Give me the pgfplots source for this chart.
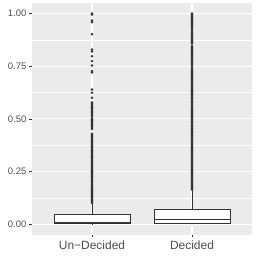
\documentclass[border=0pt]{standalone}
\usepackage{fontspec}
\setmainfont{Liberation Sans}
\usepackage{pgfplots}
\pgfplotsset{compat=1.18}
\usepgfplotslibrary{statistics}
\definecolor{panel}{HTML}{EBEBEB}
\definecolor{g20}{HTML}{333333}
\definecolor{g30}{HTML}{4D4D4D}
\begin{document}
\begin{tikzpicture}
\useasboundingbox (0,0) rectangle (256bp,256bp);
\begin{axis}[
 at={(32bp,21.3bp)}, anchor=south west,
 scale only axis, width=220bp, height=231.7bp,
 xmin=0.4, xmax=2.6, ymin=-0.05, ymax=1.05,
 axis background/.style={fill=panel},
 axis line style={draw=none},
 xtick={1,2}, xticklabels={Un−Decided, Decided},
 ytick={0,0.25,0.5,0.75,1}, yticklabels={0.00,0.25,0.50,0.75,1.00},
 minor ytick={0.125,0.375,0.625,0.875},
 grid=both,
 major grid style={white, line width=1.1bp},
 minor grid style={white, line width=0.55bp},
 tick align=outside, major tick length=2.7bp, minor tick length=0pt,
 tick style={g20, line width=0.5bp},
 tick pos=left,
 yticklabel style={font=\fontsize{9.5}{10}\selectfont, text=g30, xshift=0.5bp},
 xticklabel style={font=\fontsize{12}{13}\selectfont, text=g30},
 boxplot/draw direction=y,
 boxplot/every median/.style={line width=1.2bp},
]
\addplot[boxplot prepared={draw position=1, lower whisker=0, lower quartile=0.003, median=0.0095, upper quartile=0.047, upper whisker=0.100, box extend=0.76, whisker extend=0},
  draw=g20, line width=0.55bp, fill=white, mark=*, mark size=0.95bp, mark options={draw=g20, fill=g20, solid}]
 table[row sep=\\, y index=0] {data\\
0.100\\ 0.105\\ 0.110\\ 0.115\\ 0.120\\ 0.125\\ 0.130\\ 0.135\\ 0.140\\ 0.145\\
0.150\\ 0.155\\ 0.160\\ 0.165\\ 0.170\\ 0.175\\ 0.180\\ 0.185\\ 0.190\\ 0.195\\
0.200\\ 0.205\\ 0.210\\ 0.215\\ 0.220\\ 0.225\\ 0.230\\ 0.235\\ 0.240\\ 0.245\\
0.250\\ 0.255\\ 0.260\\ 0.265\\ 0.270\\ 0.275\\ 0.280\\ 0.285\\ 0.290\\ 0.295\\
0.300\\ 0.305\\ 0.310\\ 0.315\\ 0.320\\ 0.325\\ 0.330\\ 0.335\\ 0.340\\ 0.345\\
0.350\\ 0.355\\ 0.360\\ 0.365\\ 0.370\\ 0.375\\ 0.380\\ 0.385\\ 0.390\\ 0.395\\
0.400\\ 0.405\\ 0.410\\ 0.415\\ 0.420\\ 0.425\\ 0.430\\
0.452\\ 0.457\\ 0.462\\ 0.467\\ 0.472\\ 0.477\\ 0.482\\ 0.487\\ 0.492\\ 0.497\\ 0.502\\
0.512\\ 0.518\\ 0.524\\ 0.530\\ 0.536\\ 0.542\\ 0.548\\ 0.554\\ 0.560\\ 0.566\\ 0.572\\ 0.578\\
0.600\\ 0.624\\ 0.639\\ 0.720\\ 0.727\\ 0.753\\ 0.774\\ 0.797\\ 0.820\\ 0.829\\
0.902\\ 0.959\\ 0.967\\ 0.995\\ 1.000\\
};
\addplot[boxplot prepared={draw position=2, lower whisker=0, lower quartile=0.005, median=0.021, upper quartile=0.073, upper whisker=0.163, box extend=0.76, whisker extend=0},
  draw=g20, line width=0.55bp, fill=white, mark=*, mark size=0.95bp, mark options={draw=g20, fill=g20, solid}]
 table[row sep=\\, y index=0] {data\\
0.165\\ 0.170\\ 0.175\\ 0.180\\ 0.185\\ 0.190\\ 0.195\\ 0.200\\ 0.205\\ 0.210\\
0.215\\ 0.220\\ 0.225\\ 0.230\\ 0.235\\ 0.240\\ 0.245\\ 0.250\\ 0.255\\ 0.260\\
0.265\\ 0.270\\ 0.275\\ 0.280\\ 0.285\\ 0.290\\ 0.295\\ 0.300\\ 0.305\\ 0.310\\
0.315\\ 0.320\\ 0.325\\ 0.330\\ 0.335\\ 0.340\\ 0.345\\ 0.350\\ 0.355\\ 0.360\\
0.365\\ 0.370\\ 0.375\\ 0.380\\ 0.385\\ 0.390\\ 0.395\\ 0.400\\ 0.405\\ 0.410\\
0.415\\ 0.420\\ 0.425\\ 0.430\\ 0.435\\ 0.440\\ 0.445\\ 0.450\\ 0.455\\ 0.460\\
0.465\\ 0.470\\ 0.475\\ 0.480\\ 0.485\\ 0.490\\ 0.495\\ 0.500\\ 0.505\\ 0.510\\
0.515\\ 0.520\\ 0.525\\ 0.530\\ 0.535\\ 0.540\\ 0.545\\ 0.550\\ 0.555\\ 0.560\\
0.565\\ 0.570\\ 0.575\\ 0.580\\ 0.585\\ 0.590\\ 0.595\\ 0.600\\ 0.605\\ 0.610\\
0.615\\ 0.620\\ 0.625\\ 0.630\\ 0.635\\ 0.640\\ 0.645\\ 0.650\\ 0.655\\ 0.660\\
0.665\\ 0.670\\ 0.675\\ 0.680\\ 0.685\\ 0.690\\ 0.695\\ 0.700\\ 0.705\\ 0.710\\
0.715\\ 0.720\\ 0.725\\ 0.730\\ 0.735\\ 0.740\\
0.750\\ 0.755\\ 0.760\\ 0.765\\ 0.770\\ 0.775\\ 0.780\\ 0.785\\ 0.790\\ 0.795\\
0.800\\ 0.805\\ 0.810\\ 0.815\\ 0.820\\ 0.825\\ 0.830\\ 0.835\\ 0.840\\ 0.846\\
0.858\\ 0.863\\ 0.868\\ 0.873\\ 0.878\\ 0.883\\ 0.888\\ 0.893\\ 0.898\\ 0.903\\ 0.908\\ 0.912\\
0.922\\ 0.927\\ 0.932\\ 0.937\\ 0.942\\ 0.947\\ 0.952\\ 0.957\\ 0.962\\ 0.967\\
0.972\\ 0.977\\ 0.982\\ 0.987\\ 0.992\\ 0.996\\ 1.000\\
};
\end{axis}
\end{tikzpicture}
\end{document}
